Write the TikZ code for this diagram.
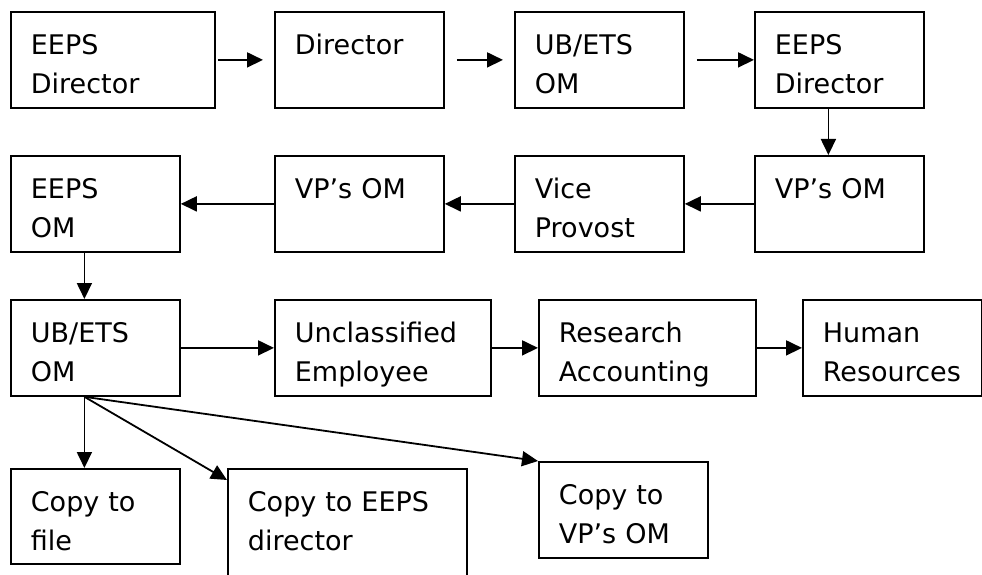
\documentclass[tikz,border=0pt]{standalone}
\usepackage{fontspec}
\setmainfont{DejaVu Sans}
\usetikzlibrary{arrows.meta}

\tikzset{
  stage/.style={draw, line width=1.8pt, anchor=north west, align=left,
    inner xsep=20pt, inner ysep=22pt, text height=21pt, text depth=31pt,
    font=\fontsize{27}{39}\selectfont},
  flow/.style={line width=1.8pt, -{Triangle[length=16pt,width=15pt]}}
}

\begin{document}
\begin{tikzpicture}[x=1pt,y=-1pt]

\useasboundingbox (0,0) rectangle (982,575);
\clip (0,0) rectangle (982,575);

\node[stage, text width=164pt] (eepsdir) at (10,11) {EEPS\\Director};
\node[stage, text width=129pt] (dir) at (274,11) {Director};
\node[stage, text width=129pt] (ubets) at (514,11) {UB/ETS\\OM};
\node[stage, text width=129pt] (eepsdirb) at (754,11) {EEPS\\Director};

\node[stage, text width=129pt] (vpom) at (754,155) {VP’s OM};
\node[stage, text width=129pt] (vprov) at (514,155) {Vice\\Provost};
\node[stage, text width=129pt] (vpomb) at (274,155) {VP’s OM};
\node[stage, text width=129pt] (eepsom) at (10,155) {EEPS\\OM};

\node[stage, text width=129pt] (ubetsb) at (10,299) {UB/ETS\\OM};
\node[stage, text width=176pt] (unclass) at (274,299) {Unclassified\\Employee};
\node[stage, text width=177pt] (resacc) at (538,299) {Research\\Accounting};
\node[stage, text width=139pt] (hr) at (802,299) {Human\\Resources};

\node[stage, text width=129pt, text depth=30pt] (cpfile) at (10,468) {Copy to\\file};
\node[stage, text width=199pt, text depth=70pt] (cpeeps) at (227,468) {Copy to EEPS\\director};
\node[stage, text width=129pt] (cpvp) at (538,461) {Copy to\\VP’s OM};

\draw[flow, shorten <=2pt, shorten >=11pt] (eepsdir.east) -- (dir.west);
\draw[flow, shorten <=12pt, shorten >=11pt] (dir.east) -- (ubets.west);
\draw[flow, shorten <=12pt] (ubets.east) -- (eepsdirb.west);
\draw[flow] ([xshift=-11pt]eepsdirb.south) -- ([xshift=-11pt]vpom.north);

\draw[flow] (vpom.west) -- (vprov.east);
\draw[flow] (vprov.west) -- (vpomb.east);
\draw[flow] (vpomb.west) -- (eepsom.east);
\draw[flow] ([xshift=-11pt]eepsom.south) -- ([xshift=-11pt]ubetsb.north);

\draw[flow] (ubetsb.east) -- (unclass.west);
\draw[flow] (unclass.east) -- (resacc.west);
\draw[flow] (resacc.east) -- (hr.west);

\coordinate (fork) at ([xshift=-11pt]ubetsb.south);
\draw[flow] (fork) -- ([xshift=-11pt]cpfile.north);
\draw[flow] (fork) -- ([yshift=-12pt]cpeeps.north west);
\draw[flow] (fork) -- (cpvp.north west);

\end{tikzpicture}
\end{document}
